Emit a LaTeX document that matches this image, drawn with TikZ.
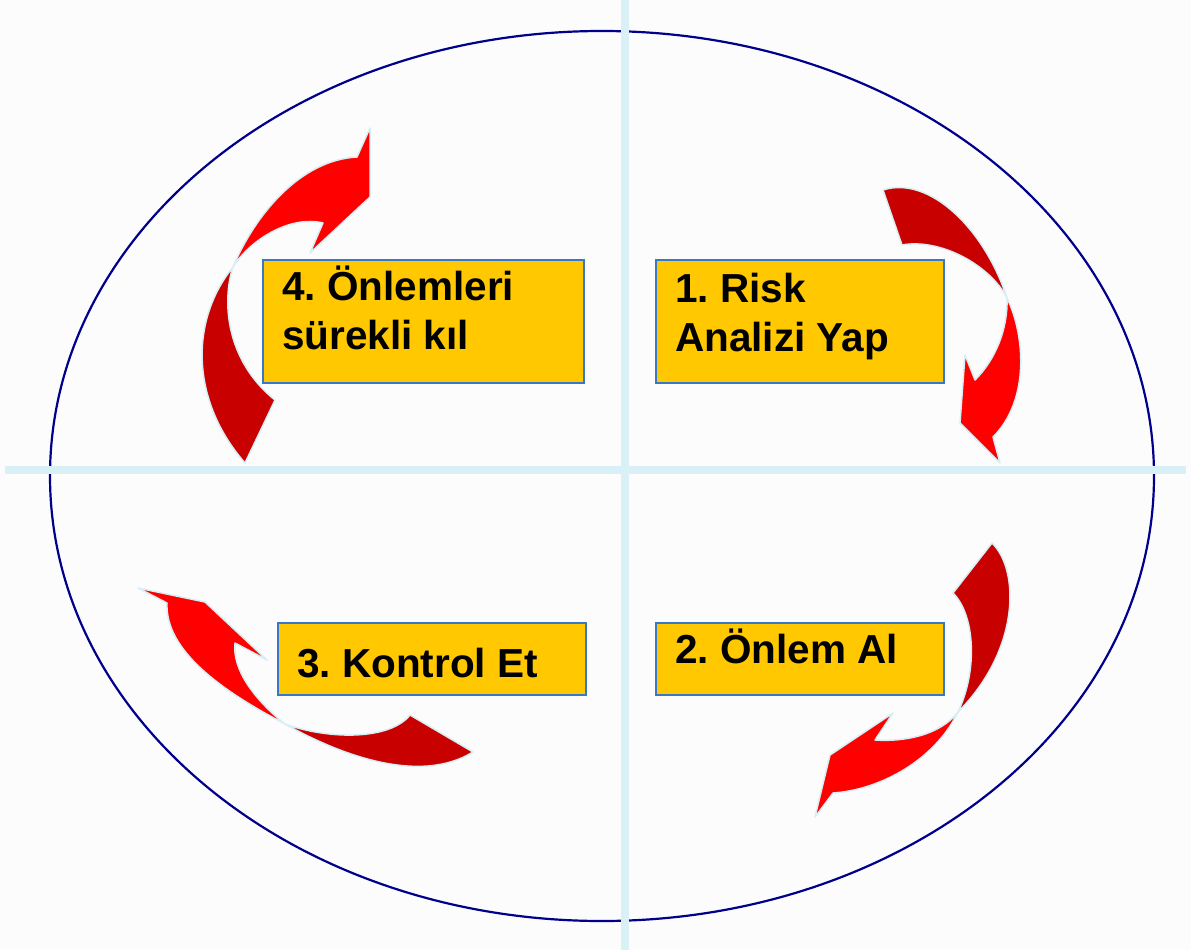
\documentclass[tikz,border=0pt]{standalone}
\usepackage{fontspec}
\setmainfont{Liberation Sans}
\definecolor{paper}{RGB}{252,252,252}
\definecolor{gridblue}{RGB}{218,240,247}
\definecolor{ringblue}{RGB}{0,0,140}
\definecolor{boxgold}{RGB}{255,200,0}
\definecolor{boxedge}{RGB}{55,120,200}
\definecolor{tailred}{RGB}{200,0,0}
\definecolor{headred}{RGB}{255,0,0}
\definecolor{glow}{RGB}{215,238,245}

\begin{document}
\begin{tikzpicture}[x=1pt,y=-1pt,
    stepbox/.style={draw=boxedge, fill=boxgold, line width=1.5pt, inner sep=0pt, anchor=north west},
    steptext/.style={anchor=north west, inner sep=0pt, align=left, font=\fontsize{40.5}{49}\selectfont\bfseries\frenchspacing},
    tailpart/.style={fill=tailred, draw=glow, line width=1.5pt, line join=round},
    headpart/.style={fill=headred, draw=glow, line width=1.5pt, line join=round}]
    %%%%% START %%%%%

    \fill[paper] (0,0) rectangle (1191,950);
    \useasboundingbox (0,0) rectangle (1191,950);

    % ring and cross
    \draw[ringblue, line width=2.2pt] (602,476) ellipse [x radius=552, y radius=445];
    \draw[gridblue, line width=8.5pt] (625,0) -- (625,950);
    \draw[gridblue, line width=8pt] (5,470) -- (1186,470);

    % arrow 1 (top right)
    \draw[tailpart] (883,190) .. controls (930,175) and (985,230) .. (1007,298)
        .. controls (990,265) and (940,238) .. (902,245) -- cycle;
    \draw[headpart] (1007,298) .. controls (1025,335) and (1030,400) .. (993,437)
        -- (1000,463) -- (960,423) -- (965,355) -- (975,380)
        .. controls (995,360) and (1008,330) .. (1007,298) -- cycle;

    % arrow 2 (bottom right)
    \draw[tailpart] (992,543) .. controls (1020,570) and (1020,650) .. (958,712)
        .. controls (978,670) and (975,615) .. (953,593) -- cycle;
    \draw[headpart] (958,712) .. controls (935,760) and (880,790) .. (833,793)
        -- (815,817) -- (830,755) -- (893,713) -- (875,740)
        .. controls (905,742) and (940,735) .. (958,712) -- cycle;

    % arrow 3 (bottom left)
    \draw[tailpart] (285,724) .. controls (340,755) and (420,785) .. (473,752)
        -- (410,715) .. controls (390,740) and (330,740) .. (285,724) -- cycle;
    \draw[headpart] (285,724) .. controls (220,690) and (165,650) .. (167,603)
        -- (138,588) -- (205,602) -- (267,660) -- (235,643)
        .. controls (232,670) and (255,700) .. (285,724) -- cycle;

    % arrow 4 (top left)
    \draw[tailpart] (245,463) .. controls (190,400) and (190,320) .. (233,267)
        .. controls (222,300) and (225,360) .. (275,400) -- cycle;
    \draw[headpart] (233,267) .. controls (255,215) and (300,160) .. (357,157)
        -- (370,128) -- (370,197) -- (310,253) -- (323,223)
        .. controls (290,215) and (250,240) .. (233,267) -- cycle;

    % steps
    \node[stepbox, minimum width=288pt, minimum height=123pt] (b1) at (655,259) {};
    \node[stepbox, minimum width=288pt, minimum height=72pt] (b2) at (655,622) {};
    \node[stepbox, minimum width=308pt, minimum height=72pt] (b3) at (277,622) {};
    \node[stepbox, minimum width=321pt, minimum height=123pt] (b4) at (262,259) {};

    \node[steptext] (t1) at ([shift={(20,5)}]b1.north west) {\rule{0pt}{38pt}1. Risk\\Analizi Yap};
    \node[steptext] (t2) at ([shift={(20,3)}]b2.north west) {\rule{0pt}{38pt}2. Önlem Al};
    \node[steptext] (t3) at ([shift={(20,17)}]b3.north west) {\rule{0pt}{38pt}3. Kontrol Et};
    \node[steptext] (t4) at ([shift={(20,3)}]b4.north west) {\rule{0pt}{38pt}4. Önlemleri\\sürekli kıl};

    %%%%% END %%%%%
\end{tikzpicture}
\end{document}
